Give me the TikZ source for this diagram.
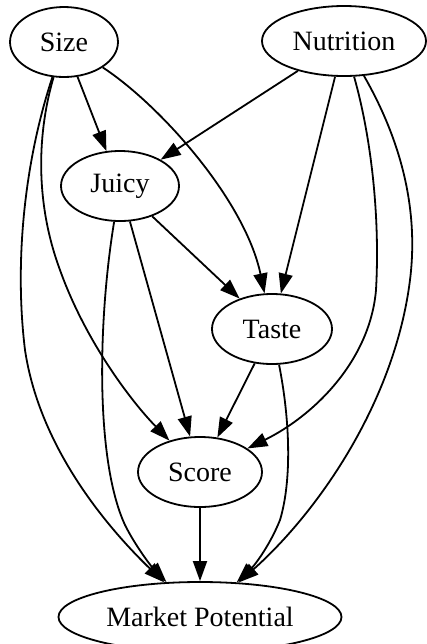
\documentclass[tikz,border=0pt]{standalone}
\usepackage{fontspec}
\setmainfont{Liberation Serif}
\usetikzlibrary{shapes.geometric,arrows.meta}

\tikzset{
  blob/.style={draw, ellipse, line width=0.9pt, minimum height=35pt, inner sep=0pt,
    font=\fontsize{14}{16}\selectfont},
  link/.style={line width=0.9pt, -{Triangle[length=10pt,width=7pt]}}
}

\begin{document}
\begin{tikzpicture}[x=0.5pt,y=-0.5pt]
  \useasboundingbox (0,0) rectangle (427,644);

  % Nodes
  \node[blob, minimum width=54pt] (size) at (64,42) {Size};
  \node[blob, minimum width=82pt] (nutr) at (344,41) {Nutrition};
  \node[blob, minimum width=59pt] (juicy) at (120,186) {Juicy};
  \node[blob, minimum width=60pt] (taste) at (272,329) {Taste};
  \node[blob, minimum width=62pt] (score) at (200,472) {Score};
  \node[blob, minimum width=141.5pt] (mp) at (200,617) {Market Potential};

  % Straight Lines
  \draw[link] (size) -- (juicy);
  \draw[link] (nutr) -- (juicy);
  \draw[link] (nutr) -- (taste);
  \draw[link] (juicy) -- (taste);
  \draw[link] (juicy) -- (score);
  \draw[link] (taste) -- (score);
  \draw[link] (score) -- (mp);

  % Curve Lines
  \draw[link] (size) .. controls (160,105) and (245,200) .. (taste);
  \draw[link] (size) .. controls (38,130) and (34,200) .. (60,270)
    .. controls (85,340) and (130,400) .. (score);
  \draw[link] (size) .. controls (25,160) and (14,260) .. (25,350)
    .. controls (40,450) and (110,530) .. (mp);
  \draw[link] (juicy) .. controls (98,320) and (95,460) .. (125,525)
    .. controls (135,545) and (150,565) .. (mp);
  \draw[link] (nutr) .. controls (372,140) and (380,220) .. (376,290)
    .. controls (370,360) and (315,415) .. (score);
  \draw[link] (nutr) .. controls (395,130) and (420,200) .. (410,280)
    .. controls (395,400) and (320,510) .. (mp);
  \draw[link] (taste) .. controls (290,420) and (292,480) .. (280,520)
    .. controls (270,545) and (255,565) .. (mp);
\end{tikzpicture}
\end{document}
